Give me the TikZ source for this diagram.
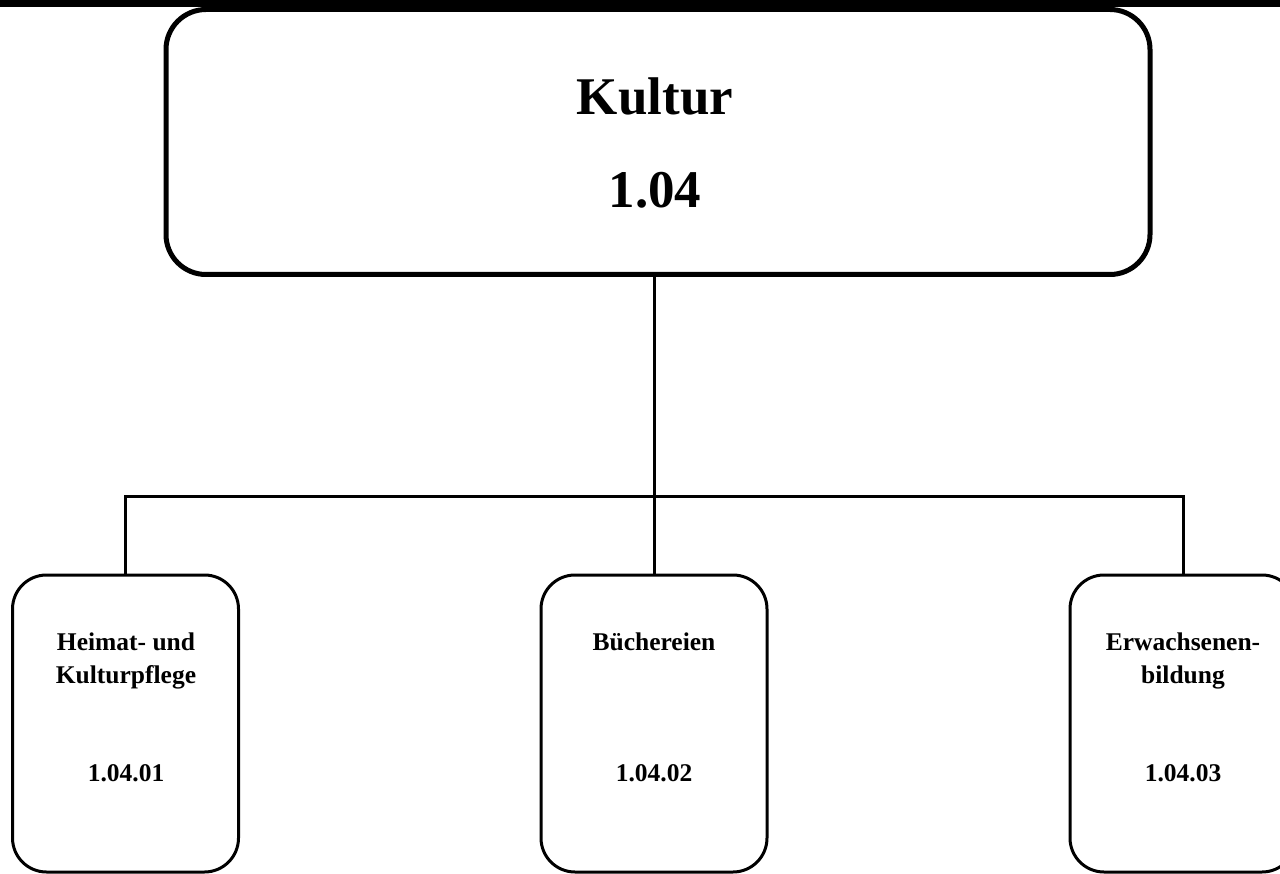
\documentclass[tikz,border=0pt]{standalone}
\usepackage{fontspec}
\setmainfont{Liberation Serif}
\begin{document}
\begin{tikzpicture}[x=1pt,y=-1pt,
  topbox/.style={draw, line width=5pt, rounded corners=40pt, minimum width=984pt, minimum height=265pt, inner sep=0pt},
  subbox/.style={draw, line width=3pt, rounded corners=34pt, minimum width=226pt, minimum height=297pt, inner sep=0pt},
  conn/.style={line width=3pt},
  bigtxt/.style={font=\fontsize{53}{60}\selectfont\bfseries, inner sep=0pt, anchor=base},
  smalltxt/.style={font=\fontsize{25.5}{33}\selectfont\bfseries, align=center, inner sep=0pt, anchor=base}
]
\useasboundingbox (0,0) rectangle (1280,874);
\fill (0,0) rectangle (1280,7);
\node[topbox] (top) at (658,142) {};
\node[bigtxt] (ttl) at (655,115) {Kultur};
\node[bigtxt] (num) at (655,208) {1.04};

\node[subbox] (b1) at (125.5,723.5) {};
\node[subbox] (b2) at (654,723.5) {};
\node[subbox] (b3) at (1183,723.5) {};

\node[smalltxt] (t1) at (126,683) {Heimat- und\\Kulturpflege};
\node[smalltxt] (t2) at (654,650) {Büchereien};
\node[smalltxt] (t3) at (1183,683) {Erwachsenen-\\bildung};
\node[smalltxt] (n1) at (126,781) {1.04.01};
\node[smalltxt] (n2) at (654,781) {1.04.02};
\node[smalltxt] (n3) at (1183,781) {1.04.03};

\coordinate (hl) at (126.5,496.5);
\coordinate (hr) at (1183,496.5);
\draw[conn] (top.south -| b2.north) -- (b2.north);
\draw[conn] (b1.north) -- (b1.north |- hl) -- (b3.north |- hr) -- (b3.north);
\end{tikzpicture}
\end{document}
